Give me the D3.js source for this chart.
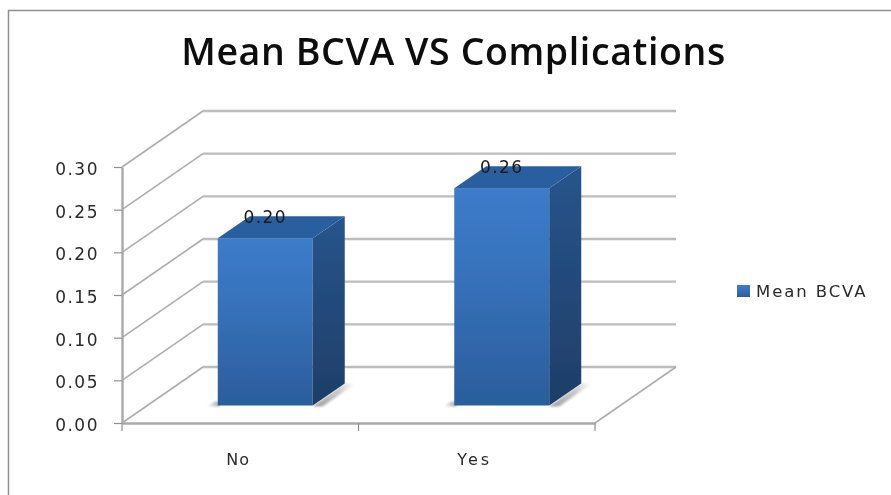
<!DOCTYPE html>
<html>
<head>
<meta charset="utf-8">
<script src="https://cdn.jsdelivr.net/npm/d3@7"></script>
<style>
  html, body { margin: 0; padding: 0; background: #fff; overflow: hidden; }
  text { font-family: "DejaVu Sans", sans-serif; }
</style>
</head>
<body>
<svg id="chart" width="891" height="495"></svg>
<script>
var categories = ["No", "Yes"];
var meanBcva = [0.20, 0.26];
var yTicks = [0, 0.05, 0.10, 0.15, 0.20, 0.25, 0.30];
var seriesName = "Mean BCVA";
var chartTitle = "Mean BCVA VS Complications";

var DEPTH_X = 81, DEPTH_Y = -56;
var GRID = "#bdbdbd", DIAG = "#adadad", AXIS = "#aaaaaa", TEXT = "#2a2a2a";

var svg = d3.select("#chart");
var defs = svg.append("defs");

function gradient(id, dir, stops) {
  var g = defs.append("linearGradient").attr("id", id)
    .attr("x1", 0).attr("y1", 0)
    .attr("x2", dir == "x" ? 1 : 0).attr("y2", dir == "x" ? 0 : 1);
  stops.forEach(function(s) {
    g.append("stop").attr("offset", s[0]).attr("stop-color", s[1]).attr("stop-opacity", s[2] == null ? 1 : s[2]);
  });
}
function blur(id, amount) {
  defs.append("filter").attr("id", id)
    .attr("x", "-20%").attr("y", "-20%").attr("width", "140%").attr("height", "140%")
    .append("feGaussianBlur").attr("stdDeviation", amount);
}
gradient("front", "y", [[0, "#3c7bca"], [0.35, "#3873bd"], [1, "#2b5d9c"]]);
gradient("side", "y", [[0, "#28548c"], [1, "#1e3e68"]]);
gradient("shadowFront", "x", [[0, "#999", 0], [1, "#999", 0.9]]);
gradient("shadowSide", "x", [[0, "#999", 1], [0.6, "#bbb", 0.8], [1, "#ccc", 0]]);
blur("soft", 0.7);
blur("softer", 1.3);

var y = d3.scaleLinear().domain([0, 0.30]).range([423, 167]);
var x = d3.scaleBand().domain(categories).range([122, 595]).paddingInner(0).paddingOuter(0);
// the bars stand part way back on the floor, where the value scale is a bit shorter
var yBar = d3.scaleLinear().domain([0, 0.30]).range([405.5, 154.7]);
var barWidth = 95, barDepthX = 32, barDepthY = -22, barShiftX = 25;

var chart = svg.append("g").attr("filter", "url(#soft)");

chart.append("path")
  .attr("d", "M8.5,495V10.5H891")
  .attr("fill", "none").attr("stroke", "#8f8f8f").attr("stroke-width", 1.5);

// side wall diagonals, thinner than the back wall lines
chart.append("g").selectAll("line").data(yTicks).enter().append("line")
  .attr("x1", x.range()[0]).attr("y1", function(d) { return y(d); })
  .attr("x2", x.range()[0] + DEPTH_X).attr("y2", function(d) { return y(d) + DEPTH_Y; })
  .attr("stroke", DIAG).attr("stroke-width", 1.6);

chart.append("g").selectAll("line").data(yTicks).enter().append("line")
  .attr("x1", x.range()[0] + DEPTH_X).attr("x2", x.range()[1] + DEPTH_X)
  .attr("y1", function(d) { return y(d) + DEPTH_Y; })
  .attr("y2", function(d) { return y(d) + DEPTH_Y; })
  .attr("stroke", GRID).attr("stroke-width", 2.4);

// right edge of the floor
chart.append("line")
  .attr("x1", x.range()[1]).attr("y1", y(0))
  .attr("x2", x.range()[1] + DEPTH_X).attr("y2", y(0) + DEPTH_Y)
  .attr("stroke", DIAG).attr("stroke-width", 1.6);

// axes
var yAxis = d3.axisLeft(y).tickValues(yTicks).tickFormat(d3.format(".2f")).tickSize(8).tickSizeOuter(0);
var yG = chart.append("g").attr("transform", "translate(122,0)").call(yAxis);
var xAxis = d3.axisBottom(x).tickValues([]).tickSizeOuter(0);
var xG = chart.append("g").attr("transform", "translate(0,423)").call(xAxis);
yG.selectAll("path").attr("stroke", AXIS).attr("stroke-width", 2.4);
yG.selectAll("line").attr("stroke", "#8f8f8f").attr("stroke-width", 1.2);
xG.selectAll("path").attr("stroke", AXIS).attr("stroke-width", 2.4);
yG.selectAll("text")
  .style("font-size", "17px").attr("fill", TEXT).attr("letter-spacing", "1.5px")
  .attr("x", -23).attr("dy", "0.44em");

// x ticks sit on the category boundaries
var xTickPos = [x.range()[0]].concat(categories.map(function(c) { return x(c) + x.bandwidth(); }));
xG.selectAll(".mid").data(xTickPos).enter().append("line").attr("class", "mid")
  .attr("x1", function(d) { return d; }).attr("x2", function(d) { return d; })
  .attr("y1", 0).attr("y2", 8).attr("stroke", "#8f8f8f").attr("stroke-width", 1.2);

chart.append("g").selectAll("text").data(categories).enter().append("text")
  .attr("x", function(d) { return x(d) + x.bandwidth() / 2 - 2; })
  .attr("y", 465).attr("text-anchor", "middle")
  .style("font-size", "16px").attr("fill", TEXT)
  .attr("letter-spacing", function(d) { return d == "Yes" ? "3px" : "1px"; })
  .text(function(d) { return d; });

// bars
var bars = chart.append("g").selectAll("g").data(meanBcva).enter().append("g");

function barLeft(i) { return x(categories[i]) + x.bandwidth() / 2 - barWidth / 2 + barShiftX; }

bars.append("path")
  .attr("d", function(d, i) {
    var l = barLeft(i), b = yBar(0);
    return "M" + (l - 11) + "," + (b + 1) + "H" + (l + 2) + "V" + (b - 4) + "H" + (l - 3) + "Z";
  })
  .attr("fill", "url(#shadowFront)").attr("filter", "url(#softer)");

bars.append("path")
  .attr("d", function(d, i) {
    var r = barLeft(i) + barWidth, b = yBar(0);
    return "M" + r + "," + (b + 1) + "L" + (r + barDepthX) + "," + (b + barDepthY) + "H" + (r + barDepthX + 11) +
      "L" + (r + 10) + "," + (b + 1) + "Z";
  })
  .attr("fill", "url(#shadowSide)").attr("filter", "url(#softer)");

bars.append("rect")
  .attr("x", function(d, i) { return barLeft(i); })
  .attr("y", function(d) { return yBar(d); })
  .attr("width", barWidth)
  .attr("height", function(d) { return yBar(0) - yBar(d); })
  .attr("fill", "url(#front)");

bars.append("path")
  .attr("d", function(d, i) {
    var r = barLeft(i) + barWidth, t = yBar(d), b = yBar(0);
    return "M" + r + "," + t + "l" + barDepthX + "," + barDepthY + "V" + (b + barDepthY) + "L" + r + "," + b + "Z";
  })
  .attr("fill", "url(#side)");

bars.append("path")
  .attr("d", function(d, i) {
    var l = barLeft(i), t = yBar(d);
    return "M" + l + "," + t + "l" + barDepthX + "," + barDepthY + "h" + barWidth + "l" + (-barDepthX) + "," + (-barDepthY) + "Z";
  })
  .attr("fill", "#2b5f9f");

bars.append("text")
  .attr("x", function(d, i) { return barLeft(i) + barWidth / 2; })
  .attr("y", function(d) { return yBar(d) - 15; })
  .attr("text-anchor", "middle")
  .style("font-size", "17px").attr("fill", "#1a1a1a").attr("letter-spacing", "1.4px")
  .text(function(d) { return d3.format(".2f")(d); });

// legend
var legend = chart.append("g").attr("transform", "translate(737,285)");
legend.append("rect").attr("width", 13).attr("height", 12).attr("fill", "url(#front)");
legend.append("text").attr("x", 19).attr("y", 12)
  .style("font-size", "16.5px").attr("fill", TEXT).attr("letter-spacing", "1.9px")
  .text(seriesName);

// title
chart.append("text")
  .attr("x", 453.5).attr("y", 65).attr("text-anchor", "middle")
  .style("font-family", "'Open Sans', sans-serif").style("font-weight", 600).style("font-size", "37.5px")
  .attr("fill", "#0a0a0a").attr("letter-spacing", "0.6px")
  .text(chartTitle);
</script>
</body>
</html>
